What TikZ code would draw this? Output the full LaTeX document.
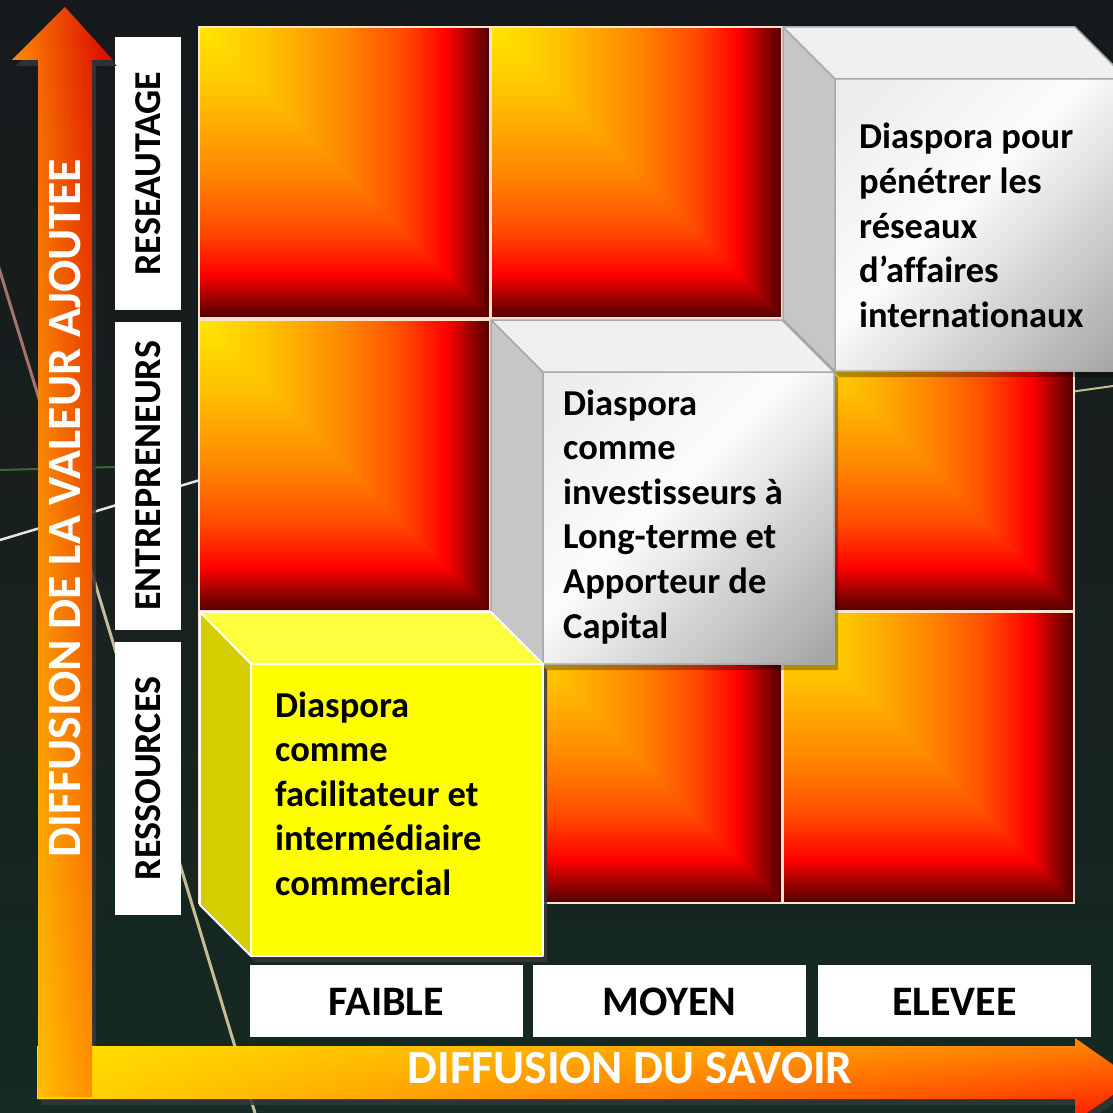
\documentclass[tikz,border=0pt]{standalone}
\usepackage{fontspec}
\setmainfont[Ligatures={NoCommon,NoContextual}]{Carlito}
\usetikzlibrary{shadings}
\definecolor{bgtop}{RGB}{22,25,27}
\definecolor{bgmid}{RGB}{24,32,31}
\definecolor{bgbot}{RGB}{20,42,34}
\definecolor{cY}{RGB}{255,232,0}
\definecolor{cYO}{RGB}{255,192,0}
\definecolor{cO}{RGB}{255,135,0}
\definecolor{cOR}{RGB}{255,75,0}
\definecolor{cR}{RGB}{255,0,0}
\definecolor{cD1}{RGB}{125,0,0}
\definecolor{cD2}{RGB}{80,0,0}
\definecolor{gA}{RGB}{236,236,236}
\definecolor{gB}{RGB}{252,252,252}
\definecolor{gC}{RGB}{222,222,222}
\definecolor{gD}{RGB}{165,165,165}
\definecolor{gTop}{RGB}{240,240,240}
\definecolor{gLeft}{RGB}{198,198,198}
\definecolor{gLine}{RGB}{168,168,168}
\definecolor{yFront}{RGB}{255,255,0}
\definecolor{yTop}{RGB}{255,255,64}
\definecolor{yLeft}{RGB}{212,206,0}
\definecolor{shadowc}{RGB}{52,55,58}
\definecolor{cellln}{RGB}{250,228,205}
\definecolor{linepink}{RGB}{165,115,110}
\definecolor{linebeige}{RGB}{200,188,150}
\definecolor{linegreen}{RGB}{70,120,60}
\definecolor{haUL}{RGB}{255,228,0}
\definecolor{haLL}{RGB}{255,212,0}
\definecolor{haUR}{RGB}{255,135,0}
\definecolor{haLR}{RGB}{255,20,0}
\definecolor{vaUL}{RGB}{255,135,0}
\definecolor{vaUR}{RGB}{215,0,0}
\definecolor{vaLL}{RGB}{255,212,0}
\definecolor{vaLR}{RGB}{255,125,0}
\pgfdeclareverticalshading{cellv}{100bp}{color(0bp)=(cD2); color(25bp)=(cD2); color(27bp)=(cD1); color(32.5bp)=(cR); color(40bp)=(cOR); color(50bp)=(cO); color(63bp)=(cYO); color(75bp)=(cY); color(100bp)=(cY)}
\pgfdeclarehorizontalshading{cellh}{100bp}{color(0bp)=(cY); color(25bp)=(cY); color(37bp)=(cYO); color(50bp)=(cO); color(60bp)=(cOR); color(67.5bp)=(cR); color(73bp)=(cD1); color(75bp)=(cD2); color(100bp)=(cD2)}
\pgfdeclarehorizontalshading{greyface}{100bp}{color(0bp)=(gA); color(18bp)=(gA); color(45bp)=(gB); color(58bp)=(gC); color(84bp)=(gD); color(100bp)=(gD)}
\newcommand\gcell[2]{%
  \shade[shading=cellh] (#1,#2) rectangle ({#1+291},{#2+291});
  \begin{scope}
    \clip (#1,#2) -- (#1,{#2+291}) -- ({#1+291},{#2+291}) -- cycle;
    \shade[shading=cellv] (#1,#2) rectangle ({#1+291},{#2+291});
  \end{scope}
  \draw[cellline] (#1,#2) rectangle ({#1+291},{#2+291});
}
\tikzset{
  cellline/.style={draw=cellln, line width=1.6pt},
  labbox/.style={fill=white, draw=none},
  rowlab/.style={font=\fontsize{38}{44}\selectfont\bfseries, text=black, inner sep=0pt, rotate=90},
  collab/.style={font=\fontsize{42}{48}\selectfont\bfseries, text=black, inner sep=0pt},
  vtitle/.style={font=\fontsize{47.8}{54}\selectfont\bfseries, text=white, inner sep=0pt, rotate=90},
  htitle/.style={font=\fontsize{47.5}{54}\selectfont\bfseries, text=white, inner sep=0pt},
  cubetext/.style={font=\fontsize{36.5}{44.6}\selectfont\bfseries, text=black, inner sep=0pt, anchor=base west},
  shadowfill/.style={fill=shadowc, opacity=0.85},
  softshadow/.style={fill=black, opacity=0.3},
  gline/.style={draw=gLine, line width=1.5pt, line join=round},
  yline/.style={draw=white, line width=1.8pt, line join=round},
}
\begin{document}
\begin{tikzpicture}[x=1pt, y=-1pt]
\clip (0,0) rectangle (1113,1113);
% background
\shade[top color=bgtop, bottom color=bgbot, middle color=bgmid] (0,0) rectangle (1113,1113);
\draw[linepink, line width=3pt] (-5,255) -- (70,500);
\draw[linebeige, line width=3pt] (70,500) -- (255,1113);
\draw[white!90!black, line width=2.5pt] (0,540) -- (200,480);
\draw[linegreen, line width=2pt, opacity=0.8] (0,470) -- (115,467);
\draw[linebeige, line width=2pt] (1070,392) -- (1113,386);

% grid of cells
\gcell{199}{27}\gcell{491}{27}\gcell{783}{27}
\gcell{199}{320}\gcell{491}{320}\gcell{783}{320}
\gcell{199}{612}\gcell{491}{612}\gcell{783}{612}

% top-right grey cube
\fill[softshadow] (787,33) -- (1079,33) -- (1131,85) -- (1131,377) -- (839,377) -- (787,325) -- cycle;
\fill[gTop] (783,27) -- (1075,27) -- (1127,79) -- (835,79) -- cycle;
\fill[gLeft] (783,27) -- (835,79) -- (835,371) -- (783,319) -- cycle;
\shade[shading=greyface, shading angle=-45] (835,79) rectangle (1127,371);
\draw[gline] (783,27) -- (1075,27) -- (1127,79) -- (1127,371) -- (835,371) -- (783,319) -- cycle;
\draw[gline] (783,27) -- (835,79) -- (1127,79) (835,79) -- (835,371);
\node[cubetext] (t3) at (859,149) {\parbox[t]{400pt}{\raggedright Diaspora pour\\pénétrer les\\réseaux\\d’affaires\\internationaux}};

% middle grey cube
\fill[softshadow] (495,326) -- (786,326) -- (838,378) -- (838,670) -- (547,670) -- (495,618) -- cycle;
\fill[gTop] (491,320) -- (782,320) -- (834,372) -- (543,372) -- cycle;
\fill[gLeft] (491,320) -- (543,372) -- (543,664) -- (491,612) -- cycle;
\shade[shading=greyface, shading angle=-45] (543,372) rectangle (834,664);
\draw[gline] (491,320) -- (782,320) -- (834,372) -- (834,664) -- (543,664) -- (491,612) -- cycle;
\draw[gline] (491,320) -- (543,372) -- (834,372) (543,372) -- (543,664);
\node[cubetext] (t2) at (563,415) {\parbox[t]{400pt}{\raggedright Diaspora\\comme\\investisseurs à\\Long-terme et\\Apporteur de\\Capital}};

% yellow cube
\fill[shadowfill] (204,618) -- (495,618) -- (547,670) -- (547,962) -- (255,962) -- (204,911) -- cycle;
\fill[yTop] (200,612) -- (491,612) -- (543,664) -- (251,664) -- cycle;
\fill[yLeft] (200,612) -- (251,664) -- (251,956) -- (200,905) -- cycle;
\fill[yFront] (251,664) rectangle (543,956);
\draw[yline] (200,612) -- (491,612) -- (543,664) -- (543,956) -- (251,956) -- (200,905) -- cycle;
\draw[yline] (200,612) -- (251,664) -- (543,664) (251,664) -- (251,956);
\node[cubetext] (t1) at (275,717) {\parbox[t]{400pt}{\raggedright Diaspora\\comme\\facilitateur et\\intermédiaire\\commercial}};

% row labels
\fill[labbox] (115,37) rectangle (181,310);
\fill[labbox] (115,322) rectangle (181,630);
\fill[labbox] (115,642) rectangle (181,915);
\node[rowlab] (r3) at (148,173.5) {RESEAUTAGE};
\node[rowlab] (r2) at (148,476) {ENTREPRENEURS};
\node[rowlab] (r1) at (148,778.5) {RESSOURCES};

% column labels
\fill[labbox] (250,965) rectangle (523,1037);
\fill[labbox] (533,965) rectangle (806,1037);
\fill[labbox] (818,965) rectangle (1091,1037);
\node[collab] (c1) at (386.5,1002) {FAIBLE};
\node[collab] (c2) at (669.5,1002) {MOYEN};
\node[collab] (c3) at (954.5,1002) {ELEVEE};

% arrow shadows
\fill[shadowfill] (41,1052) -- (1079,1052) -- (1079,1044) -- (1139,1086) -- (1079,1127) -- (1079,1105) -- (41,1105) -- cycle;
\fill[shadowfill] (42,1046) -- (42,66) -- (16,66) -- (69,13) -- (117,66) -- (96,66) -- (96,1046) -- cycle;

% horizontal arrow
\shade[upper left=haUL, lower left=haLL, upper right=haUR, lower right=haLR]
  (37,1046) -- (1075,1046) -- (1075,1038) -- (1135,1080) -- (1075,1121) -- (1075,1099) -- (37,1099) -- cycle;
\node[htitle] (ht) at (630,1068) {DIFFUSION DU SAVOIR};

% vertical arrow
\shade[upper left=vaUL, upper right=vaUR, lower left=vaLL, lower right=vaLR]
  (38,1097) -- (38,60) -- (12,60) -- (65,7) -- (113,60) -- (92,60) -- (92,1097) -- cycle;
\node[vtitle] (vt) at (65,508) {DIFFUSION DE LA VALEUR AJOUTEE};
\end{tikzpicture}
\end{document}
